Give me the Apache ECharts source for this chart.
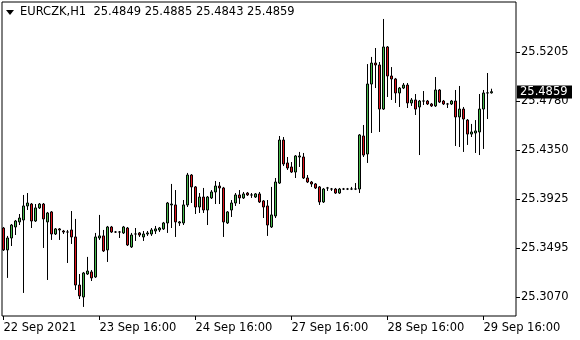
<!DOCTYPE html>
<html><head><meta charset="utf-8">
<script src="https://cdn.jsdelivr.net/npm/echarts@6/dist/echarts.min.js"></script>
<style>html,body{margin:0;padding:0;background:#fff}#c{width:580px;height:340px}</style>
</head><body><div id="c"></div><script>
const symbolName = 'EURCZK,H1';
const opens = [
25.3671,25.3480,25.3584,25.3680,25.3724,25.3741,25.3863,25.3880,25.3732,25.3846,
25.3880,25.3724,25.3811,25.3619,25.3663,25.3645,25.3636,25.3654,25.3593,25.3174,
25.3070,25.3270,25.3288,25.3244,25.3584,25.3602,25.3480,25.3680,25.3636,25.3636,
25.3628,25.3671,25.3506,25.3619,25.3628,25.3593,25.3619,25.3619,25.3645,25.3654,
25.3663,25.3715,25.3872,25.3872,25.3715,25.3715,25.3872,25.4133,25.4029,25.3854,
25.3941,25.3828,25.3933,25.3985,25.4037,25.4020,25.3715,25.3828,25.3889,25.3959,
25.3933,25.3976,25.3959,25.3941,25.3968,25.3907,25.3863,25.3680,25.3776,25.4063,
25.4438,25.4238,25.4203,25.4159,25.4290,25.4290,25.4107,25.4072,25.4055,25.4029,
25.3898,25.4020,25.4011,25.4011,25.3976,25.4011,25.4011,25.4011,25.4011,25.4011,
25.4473,25.4316,25.4926,25.5109,25.5092,25.4708,25.5249,25.4996,25.4970,25.4848,
25.4891,25.4917,25.4761,25.4787,25.4726,25.4778,25.4778,25.4752,25.4735,25.4874,
25.4778,25.4752,25.4752,25.4778,25.4639,25.4708,25.4612,25.4490,25.4499,25.4508,
25.4708,25.4848,25.4849];
const closes = [
25.3480,25.3584,25.3697,25.3732,25.3758,25.3863,25.3889,25.3732,25.3846,25.3880,
25.3750,25.3802,25.3619,25.3663,25.3654,25.3636,25.3636,25.3593,25.3174,25.3079,
25.3279,25.3296,25.3236,25.3593,25.3602,25.3471,25.3680,25.3636,25.3636,25.3636,
25.3680,25.3523,25.3610,25.3619,25.3610,25.3619,25.3628,25.3654,25.3663,25.3671,
25.3715,25.3889,25.3880,25.3724,25.3724,25.3872,25.4133,25.4029,25.3854,25.3941,
25.3828,25.3941,25.3985,25.4037,25.4020,25.3724,25.3811,25.3889,25.3959,25.3933,
25.3968,25.3959,25.3959,25.3968,25.3898,25.3854,25.3697,25.3785,25.4072,25.4438,
25.4229,25.4194,25.4159,25.4299,25.4299,25.4107,25.4072,25.4055,25.4020,25.3898,
25.4011,25.4020,25.4011,25.3976,25.4011,25.4011,25.4011,25.4011,25.4011,25.4482,
25.4307,25.4926,25.5109,25.5092,25.4708,25.5249,25.4996,25.4970,25.4848,25.4891,
25.4917,25.4761,25.4787,25.4708,25.4778,25.4778,25.4752,25.4735,25.4874,25.4769,
25.4752,25.4752,25.4778,25.4639,25.4708,25.4621,25.4490,25.4508,25.4517,25.4708,
25.4848,25.4849,25.4859];
const lows = [
25.3471,25.3236,25.3514,25.3610,25.3697,25.3105,25.3828,25.3671,25.3724,25.3837,
25.3497,25.3218,25.3567,25.3610,25.3567,25.3619,25.3366,25.3532,25.3131,25.3052,
25.2983,25.3262,25.3209,25.3236,25.3567,25.3462,25.3375,25.3628,25.3628,25.3584,
25.3619,25.3514,25.3497,25.3558,25.3593,25.3558,25.3602,25.3602,25.3619,25.3636,
25.3654,25.3628,25.3671,25.3593,25.3689,25.3697,25.3854,25.3889,25.3793,25.3802,
25.3802,25.3697,25.3924,25.3880,25.3880,25.3593,25.3706,25.3767,25.3863,25.3880,
25.3924,25.3950,25.3933,25.3933,25.3889,25.3758,25.3602,25.3671,25.3758,25.4055,
25.4211,25.4177,25.4151,25.4107,25.4203,25.4098,25.4063,25.4029,25.4011,25.3872,
25.3889,25.3994,25.3994,25.3968,25.3968,25.4002,25.4002,25.4002,25.4002,25.3976,
25.4290,25.4238,25.4499,25.4891,25.4508,25.4700,25.4813,25.4787,25.4761,25.4726,
25.4882,25.4717,25.4735,25.4656,25.4307,25.4743,25.4743,25.4726,25.4726,25.4761,
25.4743,25.4717,25.4743,25.4386,25.4377,25.4334,25.4395,25.4464,25.4325,25.4307,
25.4360,25.4621,25.4843];
const highs = [
25.3680,25.3602,25.3706,25.3741,25.3793,25.3959,25.3976,25.3889,25.3880,25.3889,
25.3889,25.3811,25.3819,25.3671,25.3671,25.3654,25.3654,25.3819,25.3750,25.3270,
25.3288,25.3419,25.3305,25.3628,25.3785,25.3654,25.3689,25.3689,25.3645,25.3645,
25.3689,25.3680,25.3628,25.3671,25.3636,25.3645,25.3645,25.3671,25.3689,25.3680,
25.3724,25.3898,25.4055,25.4002,25.3732,25.3915,25.4151,25.4141,25.4037,25.3976,
25.4020,25.3950,25.4002,25.4081,25.4072,25.4029,25.3819,25.3915,25.3976,25.4002,
25.3985,25.3985,25.3976,25.3976,25.3985,25.3915,25.3915,25.4029,25.4107,25.4473,
25.4464,25.4290,25.4246,25.4307,25.4334,25.4325,25.4133,25.4081,25.4063,25.4037,
25.4020,25.4029,25.4020,25.4020,25.4020,25.4020,25.4020,25.4029,25.4063,25.4490,
25.4569,25.5100,25.5162,25.5240,25.5118,25.5493,25.5257,25.5074,25.4979,25.4900,
25.4935,25.4935,25.4804,25.4839,25.4787,25.4865,25.4787,25.4761,25.4987,25.4882,
25.4787,25.4761,25.4787,25.4874,25.4909,25.4726,25.4621,25.4578,25.4612,25.4839,
25.4874,25.5022,25.4885];
const timeTickIndex = [0, 24, 48, 72, 96, 120];
const timeTickLabels = ['22 Sep 2021','23 Sep 16:00','24 Sep 16:00','27 Sep 16:00','28 Sep 16:00','29 Sep 16:00'];
const priceTicks = [25.3070, 25.3495, 25.3925, 25.4350, 25.4780, 25.5205];
const priceMin = 25.2904, priceMax = 25.5641;
const slotCount = 128;

const last = opens.length - 1;
const lastPrice = closes[last];
const headerText = symbolName + '  ' + [opens[last], highs[last], lows[last], closes[last]].map(v => v.toFixed(4)).join(' ');
const cats = Array.from({length: slotCount}, (_, i) => String(i));
const ohlc = opens.map((o, i) => [o, closes[i], lows[i], highs[i]]);
const FONT = 'DejaVu Sans';

const chart = echarts.init(document.getElementById('c'), null, {renderer: 'canvas'});
chart.setOption({
  animation: false,
  backgroundColor: '#ffffff',
  grid: {left: 1.5, top: 2, width: 512, height: 314, containLabel: false},
  xAxis: {
    type: 'category', data: cats, boundaryGap: true,
    axisLine: {show: false},
    axisTick: {show: true, alignWithLabel: true, length: 4, lineStyle: {color: '#000', width: 1},
      interval: (i) => timeTickIndex.indexOf(i) >= 0},
    axisLabel: {show: true, align: 'left', margin: 6, color: '#000', fontFamily: FONT, fontSize: 11.5,
      interval: (i) => timeTickIndex.indexOf(i) >= 0,
      formatter: (v, i) => { const k = timeTickIndex.indexOf(Number(v)); return k >= 0 ? timeTickLabels[k] : ''; }},
    splitLine: {show: false}
  },
  yAxis: {
    type: 'value', position: 'right', offset: 2.5, min: priceMin, max: priceMax, scale: true,
    axisLine: {show: false},
    axisTick: {show: true, length: 4, lineStyle: {color: '#000'}, customValues: priceTicks},
    axisLabel: {show: true, margin: 5, color: '#000', fontFamily: FONT, fontSize: 11.5,
      customValues: priceTicks, formatter: v => v.toFixed(4)},
    splitLine: {show: false}
  },
  graphic: [
    {type: 'rect', shape: {x: 2, y: 2, width: 514, height: 314}, style: {fill: 'none', stroke: '#000', lineWidth: 1}, z: 10, silent: true},
    {type: 'polygon', shape: {points: [[6, 10], [14, 10], [10, 15]]}, style: {fill: '#000'}, z: 10},
    {type: 'text', left: 20, top: 6, style: {text: headerText, fill: '#000', font: '11.5px "DejaVu Sans"'}, z: 10}
  ],
  series: [{
    type: 'candlestick',
    data: ohlc,
    barWidth: 3,
    itemStyle: {color: '#45b94a', color0: '#e0121a', borderColor: '#000', borderColor0: '#000', borderWidth: 1}
  }]
});

// current price tag on the right axis, positioned through the y scale
const py = chart.convertToPixel({yAxisIndex: 0}, lastPrice);
chart.setOption({
  graphic: [
    {type: 'rect', shape: {x: 2, y: 2, width: 514, height: 314}, style: {fill: 'none', stroke: '#000', lineWidth: 1}, z: 10, silent: true},
    {type: 'polygon', shape: {points: [[6, 10], [14, 10], [10, 15]]}, style: {fill: '#000'}, z: 10},
    {type: 'text', left: 20, top: 6, style: {text: headerText, fill: '#000', font: '11.5px "DejaVu Sans"'}, z: 10},
    {type: 'rect', shape: {x: 517, y: Math.round(py) - 6.5, width: 55, height: 13}, style: {fill: '#000'}, z: 20},
    {type: 'text', x: 520, y: Math.round(py), style: {text: lastPrice.toFixed(4), fill: '#fff', font: '11.5px "DejaVu Sans"', textVerticalAlign: 'middle', verticalAlign: 'middle'}, z: 21}
  ]
}, {replaceMerge: ['graphic']});
</script></body></html>
